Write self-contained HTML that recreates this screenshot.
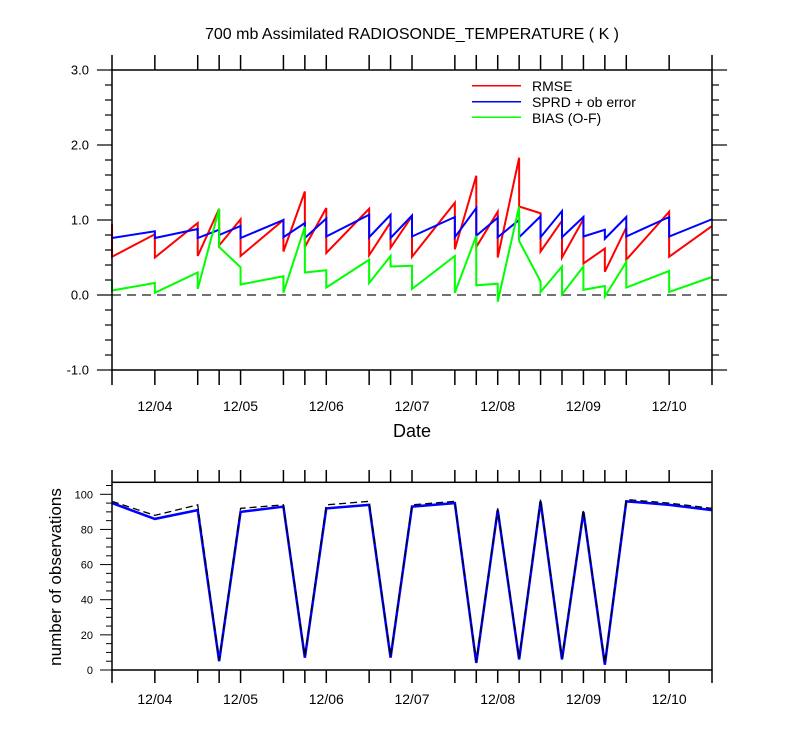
<!DOCTYPE html>
<html><head><meta charset="utf-8"><style>
html,body{margin:0;padding:0;background:#fff;}
svg{display:block;font-family:"Liberation Sans",sans-serif;}
</style></head><body>
<svg id="c" width="800" height="750" viewBox="0 0 800 750">
<text x="412" y="39" text-anchor="middle" font-size="16">700 mb Assimilated RADIOSONDE_TEMPERATURE ( K )</text>
<text x="412" y="437" text-anchor="middle" font-size="18">Date</text>
<text transform="translate(61,577) rotate(-90)" text-anchor="middle" font-size="17">number of observations</text>
<g>
<line x1="472" x2="521" y1="85.7" y2="85.7" stroke="#f00" stroke-width="1.5"/>
<text x="532" y="91" font-size="14">RMSE</text>
<line x1="472" x2="521" y1="101.7" y2="101.7" stroke="#00f" stroke-width="1.5"/>
<text x="532" y="107" font-size="14">SPRD + ob error</text>
<line x1="472" x2="521" y1="117.3" y2="117.3" stroke="#0f0" stroke-width="1.5"/>
<text x="532" y="123" font-size="14">BIAS (O-F)</text>
</g>
</svg>
<script>
// time index in 6-hour steps from 12/03 12Z
const times = [0,2,4,5,6,8,9,10,12,13,14,16,17,18,19,20,21,22,23,24,26,28];
const rmseGuess = [0.95,0.81,0.96,1.15,1.01,1.00,1.38,1.16,1.15,0.97,1.05,1.23,1.59,1.11,1.83,1.09,0.99,1.01,0.62,0.90,1.11,0.92];
const rmseAnal  = [0.51,0.50,0.52,0.66,0.52,0.58,0.64,0.56,0.53,0.63,0.51,0.61,0.64,0.50,1.18,0.58,0.50,0.42,0.31,0.47,0.51,0.92];
const sprdGuess = [0.76,0.85,0.88,0.87,0.92,1.00,0.96,1.02,1.07,1.07,1.06,1.04,1.16,1.03,1.00,1.05,1.12,1.04,0.87,1.04,1.04,1.01];
const sprdAnal  = [0.76,0.76,0.76,0.80,0.76,0.77,0.76,0.78,0.77,0.76,0.78,0.77,0.79,0.77,0.77,0.77,0.77,0.78,0.75,0.78,0.78,1.01];
const biasGuess = [0.19,0.16,0.30,1.15,0.37,0.25,0.91,0.33,0.47,0.52,0.39,0.52,0.79,0.15,1.18,0.18,0.38,0.38,0.12,0.44,0.32,0.24];
const biasAnal  = [0.06,0.03,0.08,0.64,0.14,0.03,0.30,0.10,0.16,0.38,0.08,0.03,0.13,-0.09,0.72,0.04,0.01,0.07,-0.02,0.10,0.04,0.24];
const obsPossible = [96,88,94,6,92,94,8,94,96,8,94,96,5,92,7,97,7,91,4,97,95,92];
const obsUsed     = [95,86,91,5,90,93,7,92,94,7,93,95,4,91,6,96,6,90,3,96,94,91];
const dayLabels = ['12/04','12/05','12/06','12/07','12/08','12/09','12/10'];
const yTopTicks = [-1,0,1,2,3];
const yObsTicks = [0,20,40,60,80,100];

const NS='http://www.w3.org/2000/svg';
const svg=document.getElementById('c');
function mk(tag,attrs,parent){const e=document.createElementNS(NS,tag);for(const k in attrs)e.setAttribute(k,attrs[k]);(parent||svg).appendChild(e);return e;}
const X0=112,X1=712;
const xs=t=>X0+(X1-X0)*t/28;
const yTop=v=>295-75*v;
const yBot=v=>670-1.757*v;

// top panel
const topG=mk('g',{});


function sawPath(g,a){let d='';for(let i=0;i<times.length;i++){const x=xs(times[i]);d+=(i?'L':'M')+x+','+yTop(g[i])+'L'+x+','+yTop(a[i]);}return d;}
mk('line',{x1:X0,x2:X1,y1:yTop(0),y2:yTop(0),stroke:'#444','stroke-width':1.5,'stroke-dasharray':'9,6'},topG);
const sers=[[rmseGuess,rmseAnal,'#f00','rmse-line'],[sprdGuess,sprdAnal,'#00f','sprd-line'],[biasGuess,biasAnal,'#0f0','bias-line']];
for(const s of sers){const p=mk('path',{d:sawPath(s[0],s[1]),fill:'none',stroke:s[2],'stroke-width':2,'stroke-linejoin':'miter'},topG);

}
mk('rect',{x:X0,y:70,width:X1-X0,height:300,fill:'none',stroke:'#000','stroke-width':1.5},topG);
for(let v=-1;v<=3.001;v+=0.2){const maj=Math.abs(v-Math.round(v))<1e-6;const L=maj?15:7;
mk('line',{x1:X0-L,x2:X0,y1:yTop(v),y2:yTop(v),stroke:'#000','stroke-width':1.2},topG);
mk('line',{x1:X1,x2:X1+L,y1:yTop(v),y2:yTop(v),stroke:'#000','stroke-width':1.2},topG);}
for(const v of yTopTicks){const t=mk('text',{x:89,y:yTop(v)+4.5,'text-anchor':'end','font-size':13},topG);t.textContent=v.toFixed(1);
}
for(const t of times){const x=xs(t);
mk('line',{x1:x,x2:x,y1:55,y2:70,stroke:'#000','stroke-width':1.5},topG);
mk('line',{x1:x,x2:x,y1:370,y2:385,stroke:'#000','stroke-width':1.5},topG);
mk('line',{x1:x,x2:x,y1:470,y2:482,stroke:'#000','stroke-width':1.5},topG);
mk('line',{x1:x,x2:x,y1:670,y2:683,stroke:'#000','stroke-width':1.5},topG);}
dayLabels.forEach((l,i)=>{const x=xs(2+4*i);
const t=mk('text',{x:x,y:411,'text-anchor':'middle','font-size':14},topG);t.textContent=l;

const t2=mk('text',{x:x,y:704,'text-anchor':'middle','font-size':14},topG);t2.textContent=l;
});

// bottom panel
const botG=mk('g',{});


function linePath(a){return a.map((v,i)=>(i?'L':'M')+xs(times[i])+','+yBot(v)).join('');}
const pu=mk('path',{d:linePath(obsUsed),fill:'none',stroke:'#00f','stroke-width':2.5},botG);

const pp=mk('path',{d:linePath(obsPossible),fill:'none',stroke:'#000','stroke-width':1.3,'stroke-dasharray':'7,4'},botG);

mk('rect',{x:X0,y:482.3,width:X1-X0,height:670-482.3,fill:'none',stroke:'#000','stroke-width':1.5},botG);
for(let v=0;v<=105;v+=5){const maj=v%20===0;const L=maj?12:6;
mk('line',{x1:X0-L,x2:X0,y1:yBot(v),y2:yBot(v),stroke:'#000','stroke-width':1},botG);}
for(const v of yObsTicks){const t=mk('text',{x:93,y:yBot(v)+4,'text-anchor':'end','font-size':11},botG);t.textContent=v;
}
</script>
</body></html>
